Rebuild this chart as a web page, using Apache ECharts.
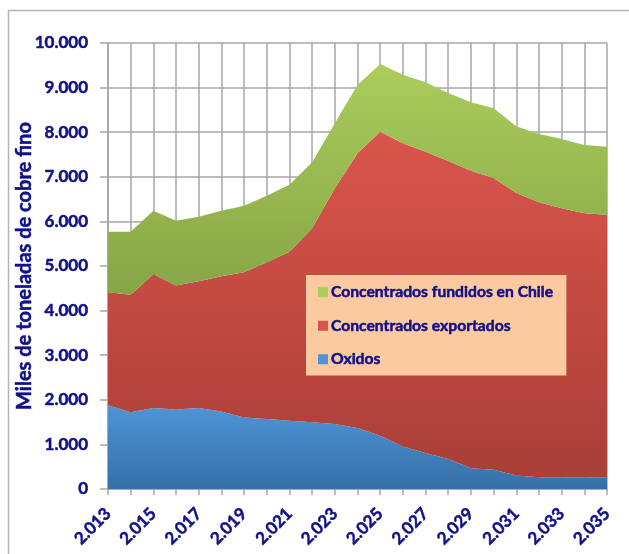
<!DOCTYPE html>
<html>
<head>
<meta charset="utf-8">
<title>Cobre fino</title>
<script src="https://cdn.jsdelivr.net/npm/echarts@6/dist/echarts.min.js"></script>
<style>
  html, body { margin: 0; padding: 0; background: #fff; }
  #chart { width: 629px; height: 554px; }
</style>
</head>
<body>
<div id="chart"></div>
<script>
  // años 2013..2035
  var years = ['2013', '2014', '2015', '2016', '2017', '2018', '2019', '2020', '2021', '2022', '2023', '2024',
    '2025', '2026', '2027', '2028', '2029', '2030', '2031', '2032', '2033', '2034', '2035'];
  // miles de toneladas
  var oxidos = [1880, 1720, 1815, 1780, 1815, 1740, 1605, 1570, 1530, 1495, 1460, 1370,
    1195, 955, 807, 673, 463, 433, 300, 262, 262, 262, 262];
  var exportados = [2530, 2637, 3005, 2780, 2841, 3028, 3253, 3512, 3791, 4350, 5282, 6160,
    6817, 6796, 6757, 6681, 6674, 6540, 6337, 6166, 6031, 5920, 5888];
  var fundidos = [1360, 1413, 1420, 1456, 1450, 1472, 1494, 1495, 1502, 1480, 1458, 1530,
    1517, 1539, 1554, 1525, 1533, 1562, 1495, 1532, 1555, 1531, 1525];

  var navy = '#10108a';
  var gridGray = '#a6a6a6';
  var font = 'Lato, "Open Sans", sans-serif';

  function grad(top, bottom) {
    return new echarts.graphic.LinearGradient(0, 0, 0, 1, [
      { offset: 0, color: top },
      { offset: 1, color: bottom }
    ]);
  }

  function fmtMiles(v) {
    var s = String(v);
    if (s.length > 3) s = s.slice(0, s.length - 3) + '.' + s.slice(s.length - 3);
    return s;
  }

  // texto un poco mas grueso, como el original
  var heavy = { textBorderColor: navy, textBorderWidth: 0.5 };

  function areaSeries(name, data, top, bottom) {
    return {
      name: name,
      type: 'line',
      stack: 'total',
      data: data,
      symbol: 'none',
      lineStyle: { width: 0 },
      itemStyle: { color: top },
      areaStyle: { color: grad(top, bottom), opacity: 1 },
      animation: false
    };
  }

  var chart = echarts.init(document.getElementById('chart'));
  chart.setOption({
    backgroundColor: '#fff',
    textStyle: { fontFamily: font },
    grid: { left: 108, right: 22, top: 43, bottom: 65, containLabel: false, outerBoundsMode: 'none' },
    graphic: [{
      type: 'polyline',
      shape: { points: [[8.5, 554], [8.5, 10.5], [629, 10.5]] },
      style: { stroke: '#b4b4b4', lineWidth: 1.5, fill: null },
      z: -1
    }],
    legend: {
      orient: 'vertical',
      left: 306,
      top: 275,
      data: ['Concentrados fundidos en Chile', 'Concentrados exportados', 'Oxidos'],
      backgroundColor: '#fbcaa0',
      padding: [9, 13, 8, 12],
      itemGap: 17,
      itemWidth: 10,
      itemHeight: 10,
      icon: 'rect',
      textStyle: Object.assign({ color: navy, fontWeight: 'bold', fontSize: 15.7, fontFamily: font, padding: [0, 0, 0, -2] }, heavy)
    },
    xAxis: {
      type: 'category',
      data: years,
      boundaryGap: false,
      axisLine: { lineStyle: { color: gridGray, width: 1.5 } },
      axisTick: { show: true, interval: 0, length: 6, lineStyle: { color: gridGray, width: 1.5 } },
      splitLine: { show: true, interval: 0, lineStyle: { color: gridGray, width: 1.5 } },
      axisLabel: Object.assign({
        interval: 1,
        rotate: 45,
        margin: 22,
        color: navy,
        fontWeight: 'bold',
        fontSize: 17,
        fontFamily: font,
        formatter: function (v) { return fmtMiles(v); }
      }, heavy)
    },
    yAxis: {
      type: 'value',
      min: 0,
      max: 10000,
      interval: 1000,
      name: 'Miles de toneladas de cobre fino',
      nameLocation: 'middle',
      nameGap: 73,
      nameMoveOverlap: false,
      nameTextStyle: Object.assign({ color: navy, fontWeight: 'bold', fontSize: 20, fontFamily: font }, heavy),
      axisLine: { show: true, lineStyle: { color: gridGray, width: 1.5 } },
      axisTick: { show: true, length: 8, lineStyle: { color: gridGray, width: 1.5 } },
      splitLine: { show: true, lineStyle: { color: gridGray, width: 1.5 } },
      axisLabel: Object.assign({
        margin: 20,
        color: navy,
        fontWeight: 'bold',
        fontSize: 17,
        fontFamily: font,
        formatter: function (v) { return fmtMiles(v); }
      }, heavy)
    },
    series: [
      areaSeries('Oxidos', oxidos, '#4e95d8', '#3570a7'),
      areaSeries('Concentrados exportados', exportados, '#da554c', '#a93f37'),
      areaSeries('Concentrados fundidos en Chile', fundidos, '#aacd5c', '#87a546')
    ]
  });
</script>
</body>
</html>
